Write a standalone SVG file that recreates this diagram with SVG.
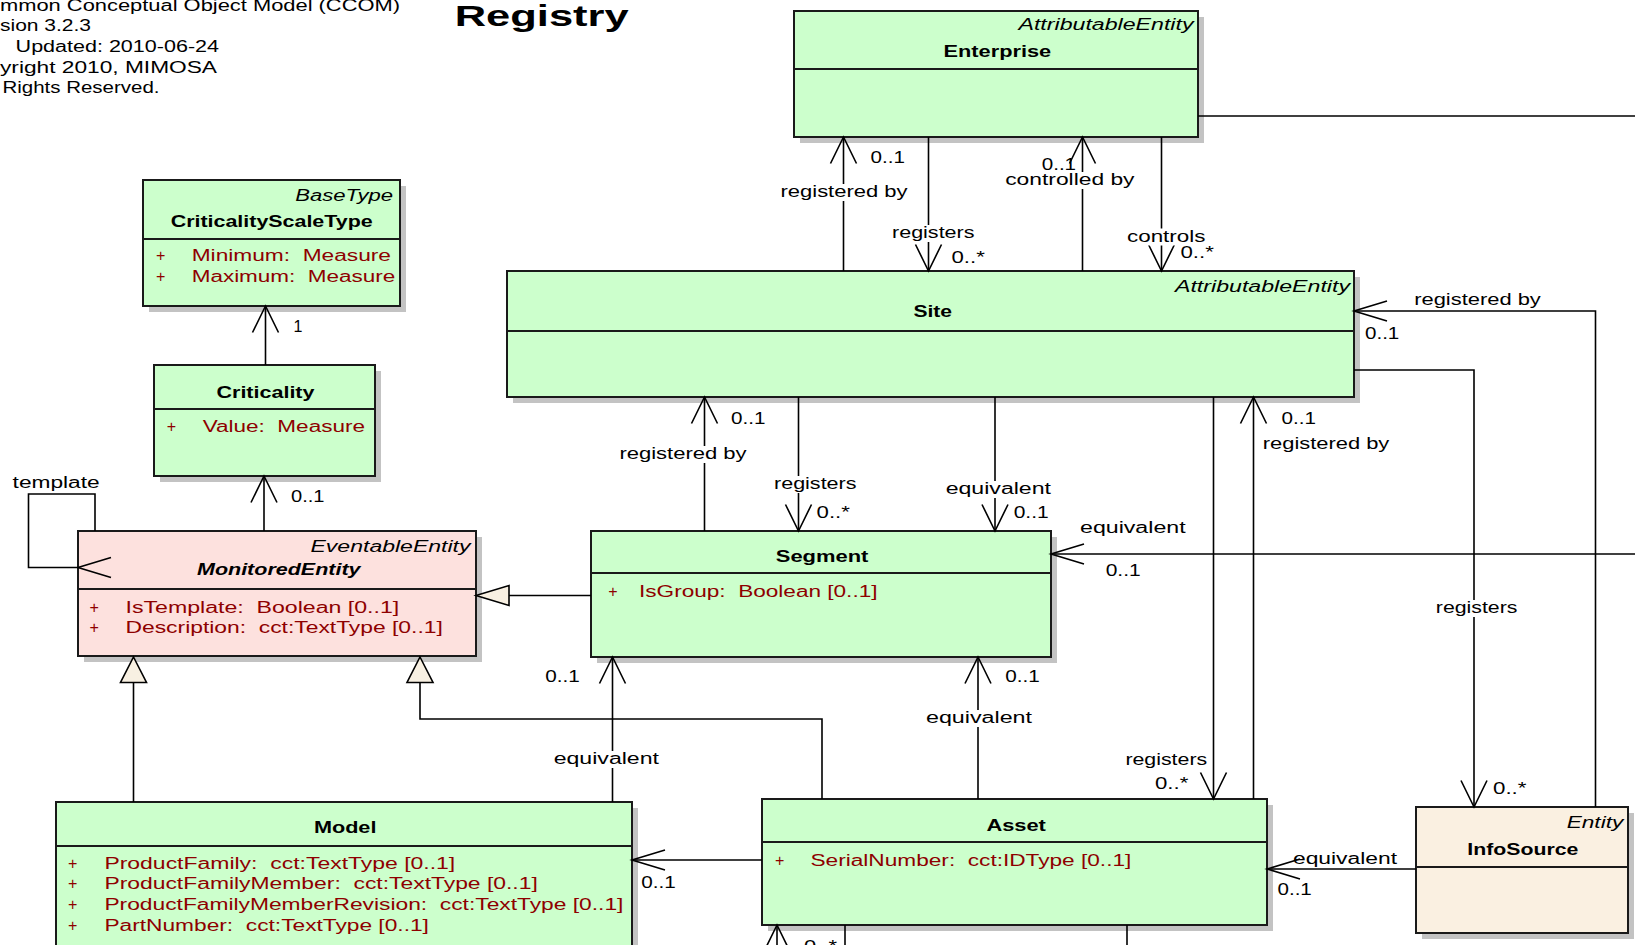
<svg xmlns="http://www.w3.org/2000/svg" width="1635" height="945" viewBox="0 0 1635 945">
<defs>
<style>
text { font-family: "Liberation Sans", Arial, sans-serif; font-size: 16px; fill: #000; }
.st { font-style: italic; }
.nm { font-weight: bold; }
.nmi { font-weight: bold; font-style: italic; }
.at { fill: #8e0000; white-space: pre; }
.box { stroke: #1a1a1a; stroke-width: 2; }
.green { fill: #ccffcc; }
.pink { fill: #fde1de; }
.cream { fill: #faf0e1; }
.shadow { fill: #c3c3c3; }
.div { stroke: #1a1a1a; stroke-width: 2; }
.ln { fill: none; stroke: #000; stroke-width: 1.6; }
.ah { fill: none; stroke: #000; stroke-width: 1.6; }
.gen { fill: #f8f0e2; stroke: #000; stroke-width: 1.6; stroke-linejoin: miter; }
.bg { fill: #fff; }
.title { font-size: 29px; font-weight: bold; }
</style>
<!-- open association arrowheads, tip at origin -->
<path id="ah-up" class="ah" d="M-13,26.5 L0,0 L13,26.5"/>
<path id="ah-down" class="ah" d="M-13,-26.5 L0,0 L13,-26.5"/>
<path id="ah-left" class="ah" d="M33,-10 L0,0 L33,10"/>
<!-- hollow generalization triangles, tip at origin -->
<path id="gen-up" class="gen" d="M0,0 L13,25.5 L-13,25.5 Z"/>
<path id="gen-left" class="gen" d="M0,0 L33,-10 L33,10 Z"/>
</defs>

<rect width="1635" height="945" fill="#fff"/>

<g id="header">
<text x="0" y="11" textLength="400" lengthAdjust="spacingAndGlyphs">mmon Conceptual Object Model (CCOM)</text>
<text x="0" y="31" textLength="91" lengthAdjust="spacingAndGlyphs">sion 3.2.3</text>
<text x="15.6" y="51.7" textLength="203.4" lengthAdjust="spacingAndGlyphs">Updated: 2010-06-24</text>
<text x="0" y="72.5" textLength="217" lengthAdjust="spacingAndGlyphs">yright 2010, MIMOSA</text>
<text x="2.5" y="93.2" textLength="157" lengthAdjust="spacingAndGlyphs">Rights Reserved.</text>
<text class="title" x="454.7" y="25.5" textLength="174" lengthAdjust="spacingAndGlyphs">Registry</text>
</g>

<g id="criticality-scale-type">
<rect class="shadow" x="149" y="186" width="257" height="126"/>
<rect class="box green" x="143" y="180" width="257" height="126"/>
<line class="div" x1="143" y1="239" x2="400" y2="239"/>
<text class="st" x="295.3" y="200.5" textLength="97.7" lengthAdjust="spacingAndGlyphs">BaseType</text>
<text class="nm" x="170.7" y="227" textLength="202" lengthAdjust="spacingAndGlyphs">CriticalityScaleType</text>
<text class="at" x="156" y="260.5">+</text>
<text class="at" x="191.7" y="260.5" textLength="199.3" lengthAdjust="spacingAndGlyphs">Minimum:  Measure</text>
<text class="at" x="156" y="281.5">+</text>
<text class="at" x="191.7" y="281.5" textLength="203.5" lengthAdjust="spacingAndGlyphs">Maximum:  Measure</text>
</g>

<g id="criticality">
<rect class="shadow" x="160" y="371" width="221" height="111"/>
<rect class="box green" x="154" y="365" width="221" height="111"/>
<line class="div" x1="154" y1="409" x2="375" y2="409"/>
<text class="nm" x="216.5" y="397.5" textLength="98" lengthAdjust="spacingAndGlyphs">Criticality</text>
<text class="at" x="166.7" y="431.5">+</text>
<text class="at" x="202.7" y="431.5" textLength="162.3" lengthAdjust="spacingAndGlyphs">Value:  Measure</text>
</g>

<g id="monitored-entity">
<rect class="shadow" x="84" y="537" width="398" height="125"/>
<rect class="box pink" x="78" y="531" width="398" height="125"/>
<line class="div" x1="78" y1="589" x2="476" y2="589"/>
<text class="st" x="310.5" y="551.5" textLength="160" lengthAdjust="spacingAndGlyphs">EventableEntity</text>
<text class="nmi" x="197" y="575" textLength="163.5" lengthAdjust="spacingAndGlyphs">MonitoredEntity</text>
<text class="at" x="89.5" y="612.5">+</text>
<text class="at" x="125.5" y="612.5" textLength="273.7" lengthAdjust="spacingAndGlyphs">IsTemplate:  Boolean [0..1]</text>
<text class="at" x="89.5" y="633.3">+</text>
<text class="at" x="125.5" y="633.3" textLength="317.3" lengthAdjust="spacingAndGlyphs">Description:  cct:TextType [0..1]</text>
</g>

<g id="segment">
<rect class="shadow" x="597" y="537" width="460" height="126"/>
<rect class="box green" x="591" y="531" width="460" height="126"/>
<line class="div" x1="591" y1="573" x2="1051" y2="573"/>
<text class="nm" x="775.8" y="562.3" textLength="92.6" lengthAdjust="spacingAndGlyphs">Segment</text>
<text class="at" x="608.3" y="597.3">+</text>
<text class="at" x="639" y="597.3" textLength="238.5" lengthAdjust="spacingAndGlyphs">IsGroup:  Boolean [0..1]</text>
</g>

<g id="site">
<rect class="shadow" x="513" y="277" width="847" height="126"/>
<rect class="box green" x="507" y="271" width="847" height="126"/>
<line class="div" x1="507" y1="331" x2="1354" y2="331"/>
<text class="st" x="1175" y="291.5" textLength="175" lengthAdjust="spacingAndGlyphs">AttributableEntity</text>
<text class="nm" x="913.4" y="317.3" textLength="38.6" lengthAdjust="spacingAndGlyphs">Site</text>
</g>

<g id="enterprise">
<rect class="shadow" x="800" y="17" width="404" height="126"/>
<rect class="box green" x="794" y="11" width="404" height="126"/>
<line class="div" x1="794" y1="69" x2="1198" y2="69"/>
<text class="st" x="1018.5" y="30" textLength="175" lengthAdjust="spacingAndGlyphs">AttributableEntity</text>
<text class="nm" x="943.6" y="56.5" textLength="107.5" lengthAdjust="spacingAndGlyphs">Enterprise</text>
</g>

<g id="asset">
<rect class="shadow" x="768" y="805" width="505" height="126"/>
<rect class="box green" x="762" y="799" width="505" height="126"/>
<line class="div" x1="762" y1="842" x2="1267" y2="842"/>
<text class="nm" x="986.4" y="830.7" textLength="59.5" lengthAdjust="spacingAndGlyphs">Asset</text>
<text class="at" x="775" y="866">+</text>
<text class="at" x="810.5" y="866" textLength="320.8" lengthAdjust="spacingAndGlyphs">SerialNumber:  cct:IDType [0..1]</text>
</g>

<g id="model">
<rect class="shadow" x="62" y="808" width="576" height="170"/>
<rect class="box green" x="56" y="802" width="576" height="170"/>
<line class="div" x1="56" y1="846" x2="632" y2="846"/>
<text class="nm" x="313.9" y="833.3" textLength="62.5" lengthAdjust="spacingAndGlyphs">Model</text>
<text class="at" x="68" y="868.5">+</text>
<text class="at" x="104.4" y="868.5" textLength="350.8" lengthAdjust="spacingAndGlyphs">ProductFamily:  cct:TextType [0..1]</text>
<text class="at" x="68" y="889.3">+</text>
<text class="at" x="104.4" y="889.3" textLength="433.4" lengthAdjust="spacingAndGlyphs">ProductFamilyMember:  cct:TextType [0..1]</text>
<text class="at" x="68" y="910.1">+</text>
<text class="at" x="104.4" y="910.1" textLength="519" lengthAdjust="spacingAndGlyphs">ProductFamilyMemberRevision:  cct:TextType [0..1]</text>
<text class="at" x="68" y="930.9">+</text>
<text class="at" x="104.4" y="930.9" textLength="324.5" lengthAdjust="spacingAndGlyphs">PartNumber:  cct:TextType [0..1]</text>
</g>

<g id="info-source">
<rect class="shadow" x="1422" y="813" width="212" height="126"/>
<rect class="box cream" x="1416" y="807" width="212" height="126"/>
<line class="div" x1="1416" y1="867" x2="1628" y2="867"/>
<text class="st" x="1566.7" y="828.3" textLength="56.6" lengthAdjust="spacingAndGlyphs">Entity</text>
<text class="nm" x="1467.3" y="855" textLength="111" lengthAdjust="spacingAndGlyphs">InfoSource</text>
</g>

<g id="connectors">
<!-- association and generalization paths -->
<path class="ln" d="M265.5,365 V306"/>
<path class="ln" d="M264,531 V476"/>
<path class="ln" d="M95,531 V494 H28.5 V567.5 H78"/>
<path class="ln" d="M591,595.5 H509"/>
<path class="ln" d="M133.5,802 V682.5"/>
<path class="ln" d="M822,799 V719 H420 V682.5"/>
<path class="ln" d="M612.5,802 V657"/>
<path class="ln" d="M978,799 V657"/>
<path class="ln" d="M762,860 H632"/>
<path class="ln" d="M704.5,531 V397"/>
<path class="ln" d="M798.5,397 V531"/>
<path class="ln" d="M995,397 V531"/>
<path class="ln" d="M843.5,271 V137"/>
<path class="ln" d="M928.5,137 V271"/>
<path class="ln" d="M1082.5,271 V137"/>
<path class="ln" d="M1161.5,137 V271"/>
<path class="ln" d="M1253.5,799 V397"/>
<path class="ln" d="M1213.5,397 V799"/>
<path class="ln" d="M1635,554 H1051"/>
<path class="ln" d="M1354,370 H1474 V807"/>
<path class="ln" d="M1595.5,807 V311 H1354"/>
<path class="ln" d="M1416,869 H1267"/>
<path class="ln" d="M1198,116 H1635"/>
<path class="ln" d="M777,925 V950"/>
<path class="ln" d="M845,925 V950"/>
<path class="ln" d="M1127,925 V950"/>

<!-- arrowheads -->
<use href="#ah-up" x="265.5" y="306"/>
<use href="#ah-up" x="264" y="476"/>
<use href="#ah-left" x="78" y="567.5"/>
<use href="#gen-left" x="476" y="595.5"/>
<use href="#gen-up" x="133.5" y="657"/>
<use href="#gen-up" x="420" y="657"/>
<use href="#ah-up" x="612.5" y="657"/>
<use href="#ah-up" x="978" y="657"/>
<use href="#ah-left" x="632" y="860"/>
<use href="#ah-up" x="704.5" y="397"/>
<use href="#ah-down" x="798.5" y="531"/>
<use href="#ah-down" x="995" y="531"/>
<use href="#ah-up" x="843.5" y="137"/>
<use href="#ah-down" x="928.5" y="271"/>
<use href="#ah-up" x="1082.5" y="137"/>
<use href="#ah-down" x="1161.5" y="271"/>
<use href="#ah-up" x="1253.5" y="397"/>
<use href="#ah-down" x="1213.5" y="799"/>
<use href="#ah-left" x="1051" y="554"/>
<use href="#ah-down" x="1474" y="807"/>
<use href="#ah-left" x="1354" y="311"/>
<use href="#ah-left" x="1267" y="869"/>
<use href="#ah-up" x="777" y="925"/>

<!-- label backgrounds where a label sits on its line -->
<rect class="bg" x="552.7" y="751" width="107.3" height="17"/>
<rect class="bg" x="925" y="710" width="108" height="17"/>
<rect class="bg" x="618.4" y="446" width="129.2" height="17"/>
<rect class="bg" x="773" y="476" width="84.5" height="17"/>
<rect class="bg" x="944.7" y="481" width="107.3" height="17"/>
<rect class="bg" x="779.5" y="184" width="129" height="17"/>
<rect class="bg" x="891" y="225" width="84.5" height="17"/>
<rect class="bg" x="1004.2" y="172" width="131.3" height="17"/>
<rect class="bg" x="1126" y="228.5" width="80.4" height="17"/>
<rect class="bg" x="1434.8" y="600" width="83.6" height="17"/>

<!-- role names and multiplicities -->
<text x="293.5" y="331.5">1</text>
<text x="291" y="502" textLength="33.5" lengthAdjust="spacingAndGlyphs">0..1</text>
<text x="12.6" y="488.3" textLength="87" lengthAdjust="spacingAndGlyphs">template</text>
<text x="553.7" y="764" textLength="105.3" lengthAdjust="spacingAndGlyphs">equivalent</text>
<text x="545.3" y="682" textLength="34.5" lengthAdjust="spacingAndGlyphs">0..1</text>
<text x="926" y="722.8" textLength="106" lengthAdjust="spacingAndGlyphs">equivalent</text>
<text x="1005.2" y="682" textLength="34.5" lengthAdjust="spacingAndGlyphs">0..1</text>
<text x="641.3" y="887.5" textLength="34.5" lengthAdjust="spacingAndGlyphs">0..1</text>
<text x="619.4" y="459" textLength="127.2" lengthAdjust="spacingAndGlyphs">registered by</text>
<text x="731" y="424" textLength="34.4" lengthAdjust="spacingAndGlyphs">0..1</text>
<text x="774" y="488.7" textLength="82.5" lengthAdjust="spacingAndGlyphs">registers</text>
<text x="816.6" y="517.5" textLength="33.3" lengthAdjust="spacingAndGlyphs">0..*</text>
<text x="945.7" y="493.8" textLength="105.3" lengthAdjust="spacingAndGlyphs">equivalent</text>
<text x="1013.7" y="517.5" textLength="35" lengthAdjust="spacingAndGlyphs">0..1</text>
<text x="780.5" y="197" textLength="127" lengthAdjust="spacingAndGlyphs">registered by</text>
<text x="870.6" y="163" textLength="34.4" lengthAdjust="spacingAndGlyphs">0..1</text>
<text x="892" y="238" textLength="82.5" lengthAdjust="spacingAndGlyphs">registers</text>
<text x="951.5" y="263" textLength="33.3" lengthAdjust="spacingAndGlyphs">0..*</text>
<text x="1041.7" y="170" textLength="34.4" lengthAdjust="spacingAndGlyphs">0..1</text>
<text x="1005.2" y="185" textLength="129.3" lengthAdjust="spacingAndGlyphs">controlled by</text>
<text x="1127" y="241.5" textLength="78.4" lengthAdjust="spacingAndGlyphs">controls</text>
<text x="1180.4" y="257.8" textLength="33.4" lengthAdjust="spacingAndGlyphs">0..*</text>
<text x="1281.5" y="424" textLength="34.4" lengthAdjust="spacingAndGlyphs">0..1</text>
<text x="1262.8" y="449" textLength="126.5" lengthAdjust="spacingAndGlyphs">registered by</text>
<text x="1125.4" y="764.8" textLength="81.8" lengthAdjust="spacingAndGlyphs">registers</text>
<text x="1155" y="788.5" textLength="33.3" lengthAdjust="spacingAndGlyphs">0..*</text>
<text x="1080" y="532.5" textLength="105.6" lengthAdjust="spacingAndGlyphs">equivalent</text>
<text x="1105.7" y="575.5" textLength="35" lengthAdjust="spacingAndGlyphs">0..1</text>
<text x="1435.8" y="612.7" textLength="81.6" lengthAdjust="spacingAndGlyphs">registers</text>
<text x="1493" y="794" textLength="33.5" lengthAdjust="spacingAndGlyphs">0..*</text>
<text x="1414.2" y="305" textLength="126.6" lengthAdjust="spacingAndGlyphs">registered by</text>
<text x="1365" y="339" textLength="34.3" lengthAdjust="spacingAndGlyphs">0..1</text>
<text x="1293" y="863.7" textLength="104" lengthAdjust="spacingAndGlyphs">equivalent</text>
<text x="1277.5" y="895" textLength="34.3" lengthAdjust="spacingAndGlyphs">0..1</text>
<text x="804" y="952" textLength="33" lengthAdjust="spacingAndGlyphs">0..*</text>
</g>
</svg>
